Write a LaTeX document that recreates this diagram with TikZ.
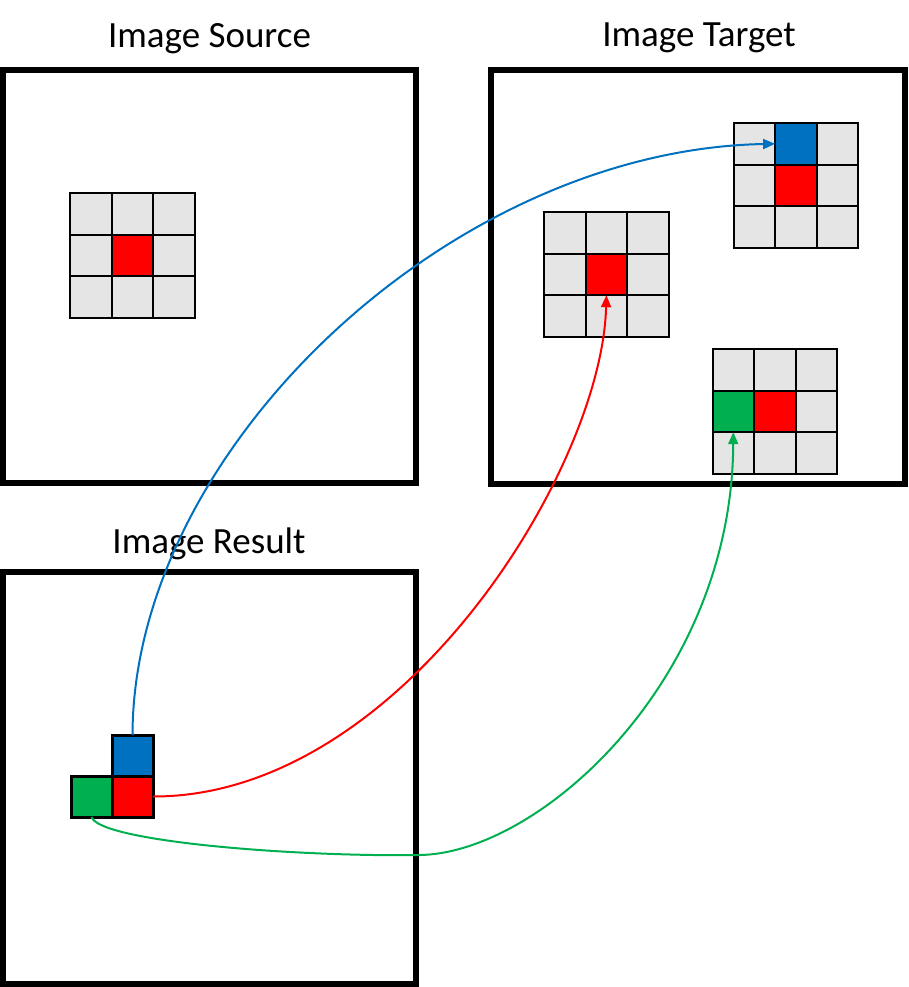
\documentclass[tikz,border=0pt]{standalone}
\usepackage{fontspec}
\setmainfont{Carlito}
\usetikzlibrary{arrows.meta}
\definecolor{cellgray}{HTML}{E5E5E5}
\definecolor{pred}{HTML}{FF0000}
\definecolor{pblue}{HTML}{0070C0}
\definecolor{pgreen}{HTML}{00B050}
\tikzset{
  frame/.style={draw=black,line width=6pt},
  title/.style={font=\fontsize{37}{40}\selectfont,anchor=base,inner sep=0pt},
  cell/.style={draw=black,line width=2pt,fill=cellgray,minimum size=41.6pt,inner sep=0pt,outer sep=0pt},
  rcell/.style={cell,fill=pred},
  bcell/.style={cell,fill=pblue},
  gcell/.style={cell,fill=pgreen},
  rescell/.style={cell,line width=3pt,minimum size=41pt},
  link/.style={line width=2pt,-{Triangle[length=12pt,width=10pt]}},
}
% 3x3 grid of gray cells, top-left corner (#1,#2), prefix #3
\newcommand{\graygrid}[3]{%
  \foreach \i in {0,1,2}{\foreach \j in {0,1,2}{%
    \node[cell] (#3-\i-\j) at ({#1+41.6*\i+20.8},{#2+41.6*\j+20.8}) {};}}}
\begin{document}
\begin{tikzpicture}[x=1pt,y=-1pt]
\useasboundingbox (0,0) rectangle (908,987);
% frames
\draw[frame] (3,70) rectangle (416,483);
\draw[frame] (491,70) rectangle (904.5,483.5);
\draw[frame] (3,572) rectangle (416,984);
% titles
\node[title] (tsrc) at (209.5,48) {Image Source};
\node[title] (ttgt) at (699,47) {Image Target};
\node[title] (tres) at (209,553) {Image Result};
% source grid
\graygrid{70}{193}{s}
\node[rcell] (sR) at (s-1-1) {};
% target grid 1
\graygrid{544}{212}{a}
\node[rcell] (aR) at (a-1-1) {};
% target grid 2
\graygrid{733.5}{123}{b}
\node[bcell] (bB) at (b-1-0) {};
\node[rcell] (bR) at (b-1-1) {};
% target grid 3
\graygrid{712.5}{349}{c}
\node[gcell] (cG) at (c-0-1) {};
\node[rcell] (cR) at (c-1-1) {};
% result cells
\node[rescell,fill=pblue] (rB) at (132.5,755.5) {};
\node[rescell,fill=pred] (rR) at (132.5,796.5) {};
\node[rescell,fill=pgreen] (rG) at (91.5,796.5) {};
% connectors
\draw[link,pblue] (rB.north) .. controls (133,450) and (450,150) .. (bB.west);
\draw[link,pred] (rR.east) .. controls (400,797) and (602,470) .. (aR.south);
\coordinate (gmid) at (420,855);
\draw[line width=2pt,pgreen] (rG.south) .. controls (100,842) and (300,857) .. (gmid);
\draw[link,pgreen] (gmid) .. controls (540,853) and (732,680) .. (cG.south);
\end{tikzpicture}
\end{document}
